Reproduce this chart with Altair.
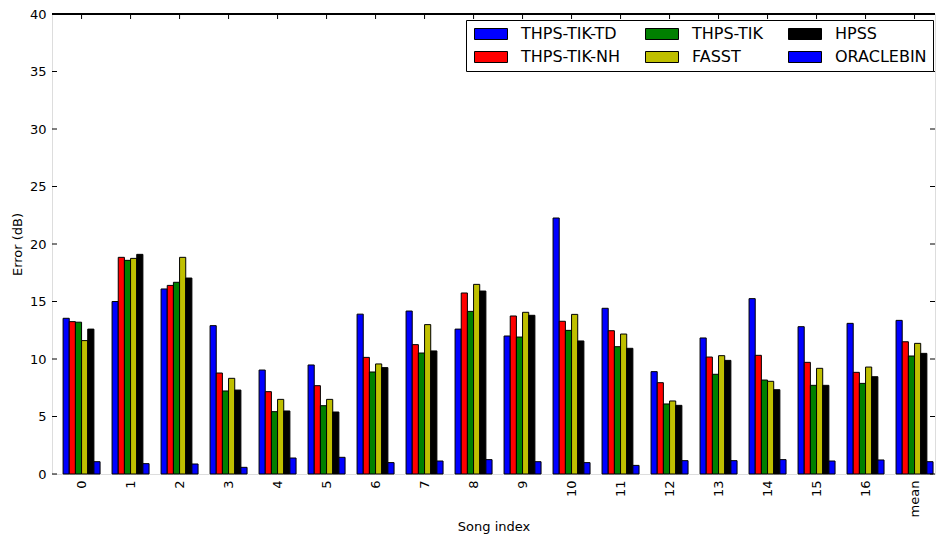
import altair as alt
import pandas as pd

songs = [str(i) for i in range(17)] + ["mean"]
series = ["THPS-TIK-TD", "THPS-TIK-NH", "THPS-TIK", "FASST", "HPSS", "ORACLEBIN"]
series_colors = ["#0000ff", "#ff0000", "#008000", "#bfbf00", "#000000", "#0000ff"]

td = [13.54, 15.0, 16.09, 12.9, 9.04, 9.48, 13.9, 14.17, 12.6, 12.0, 22.26, 14.41, 8.9, 11.83, 15.25, 12.81, 13.1, 13.36]
nh = [13.25, 18.84, 16.4, 8.78, 7.16, 7.68, 10.14, 11.25, 15.74, 13.74, 13.28, 12.46, 7.94, 10.17, 10.32, 9.71, 8.84, 11.5]
tik = [13.2, 18.58, 16.67, 7.22, 5.42, 5.94, 8.87, 10.52, 14.14, 11.91, 12.49, 11.07, 6.09, 8.67, 8.17, 7.71, 7.88, 10.26]
fasst = [11.6, 18.75, 18.84, 8.32, 6.49, 6.49, 9.57, 12.99, 16.49, 14.06, 13.88, 12.17, 6.35, 10.29, 8.06, 9.19, 9.3, 11.36]
hpss = [12.6, 19.1, 17.04, 7.3, 5.48, 5.39, 9.25, 10.7, 15.91, 13.8, 11.57, 10.93, 5.97, 9.88, 7.33, 7.71, 8.46, 10.49]
oracle = [1.07, 0.9, 0.87, 0.58, 1.39, 1.45, 0.99, 1.13, 1.25, 1.07, 0.99, 0.75, 1.16, 1.16, 1.25, 1.13, 1.22, 1.07]

y_ticks = [0, 5, 10, 15, 20, 25, 30, 35, 40]

values = [td, nh, tik, fasst, hpss, oracle]
rows = []
for s, vals in zip(series, values):
    for song, v in zip(songs, vals):
        rows.append({"song": song, "series": s, "value": v})
df = pd.DataFrame(rows)

W, H = 883, 460
FONT = "DejaVu Sans"

x_enc = alt.X(
    "song:N",
    sort=songs,
    scale=alt.Scale(paddingInner=0.245, paddingOuter=0.133, align=0.85),
    axis=alt.Axis(
        title="Song index", labelAngle=270, ticks=False, domain=False,
        labelPadding=6, titlePadding=4, labelFontSize=13, titleFontSize=13,
        labelFont=FONT, titleFont=FONT, titleFontWeight="normal",
        labelColor="black", titleColor="black",
    ),
)
y_axis = alt.Axis(
    title="Error (dB)", values=y_ticks, ticks=False, domain=False, grid=False,
    labelPadding=6, titlePadding=5, labelFontSize=13, titleFontSize=13,
    labelFont=FONT, titleFont=FONT, titleFontWeight="normal",
    labelColor="black", titleColor="black",
)
y_scale = alt.Scale(domain=[0, 40], nice=False, zero=True)

bars = alt.Chart(df).mark_bar(stroke="black", strokeWidth=1).encode(
    x=x_enc,
    xOffset=alt.XOffset("series:N", sort=series, scale=alt.Scale(paddingInner=0, paddingOuter=0)),
    y=alt.Y("value:Q", scale=y_scale, axis=y_axis),
    color=alt.Color(
        "series:N",
        scale=alt.Scale(domain=series, range=series_colors),
        legend=alt.Legend(
            title=None, orient="none", legendX=414, legendY=6, columns=3,
            symbolType="M-1,-1H5V1H-1Z", symbolSize=121,
            symbolStrokeColor="black", symbolStrokeWidth=1, symbolOpacity=1,
            labelFontSize=16, labelFont=FONT, labelColor="black", labelOffset=33,
            rowPadding=7, columnPadding=23, padding=6,
            strokeColor="black", fillColor="white", cornerRadius=0,
        ),
    ),
)

ydf = pd.DataFrame({"v": y_ticks})
xdf = pd.DataFrame({"song": songs})

left_ticks = alt.Chart(ydf).mark_rule(color="black", strokeWidth=1).encode(
    y=alt.Y("v:Q", scale=y_scale, axis=y_axis), x=alt.value(0), x2=alt.value(5)
)
right_ticks = alt.Chart(ydf).mark_rule(color="black", strokeWidth=1).encode(
    y=alt.Y("v:Q", scale=y_scale, axis=y_axis), x=alt.value(W - 5), x2=alt.value(W)
)
top_ticks = alt.Chart(xdf).mark_rule(color="black", strokeWidth=1).encode(
    x=x_enc, y=alt.value(0), y2=alt.value(5)
)
top_border = alt.Chart(xdf).mark_rule(color="black", strokeWidth=1).encode(
    x=alt.value(0), x2=alt.value(W), y=alt.value(0)
)

chart = alt.layer(bars, left_ticks, right_ticks, top_ticks, top_border).properties(
    width=W, height=H,
    autosize=alt.AutoSizeParams(type="none"),
    padding={"left": 52, "top": 14, "right": 1, "bottom": 62},
    background="white",
).configure_view(stroke="black", strokeWidth=1).configure(font=FONT)

chart.save("out.html", embed_options={"renderer": "svg", "actions": False})
